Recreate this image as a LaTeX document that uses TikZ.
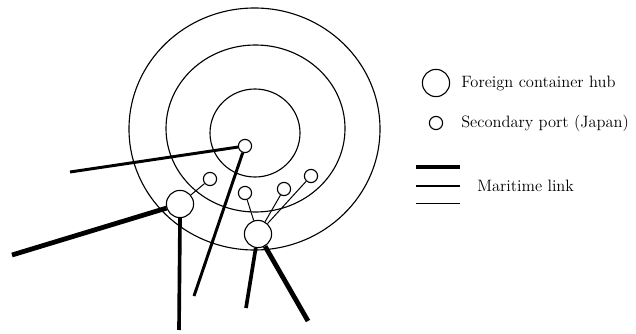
\documentclass[tikz,border=0pt]{standalone}
\usepackage{tikz}
\usetikzlibrary{positioning}

\tikzset{
    hub/.style={circle, draw, line width=0.8pt, inner sep=0pt, minimum size=0.68cm},
    port/.style={circle, draw, line width=0.8pt, inner sep=0pt, minimum size=0.33cm},
    ring/.style={line width=0.8pt},
    linkA/.style={line width=3.4pt},
    linkB/.style={line width=2.6pt},
    linkC/.style={line width=2.1pt},
    linkD/.style={line width=0.7pt},
    legtext/.style={anchor=west, inner sep=0pt, font=\fontsize{11.7}{14}\selectfont}
}

\begin{document}
\begin{tikzpicture}[x=0.025cm, y=-0.025cm]

    \useasboundingbox (0,0) rectangle (636,334);

    % Anells
    \draw[ring] (254.5,129) ellipse [x radius=125.5, y radius=121];
    \draw[ring] (255.5,128.5) ellipse [x radius=89.5, y radius=83.5];
    \draw[ring] (255,133) ellipse [x radius=45, y radius=44];

    % Ports
    \node[port, fill=white] (core) at (245,146) {};
    \node[port] (pa) at (210,179) {};
    \node[port] (pb) at (245,193) {};
    \node[port] (pc) at (284,189) {};
    \node[port] (pd) at (311,176) {};
    \node[hub, fill=white] (hw) at (180,204) {};
    \node[hub, fill=white] (he) at (258,234) {};

    % Extrems lliures
    \coordinate (ew) at (70,172);
    \coordinate (es) at (194,296);
    \coordinate (fw) at (12,255);
    \coordinate (fs) at (179,330);
    \coordinate (gs) at (246,308);
    \coordinate (ge) at (308,321);

    % Enllacos
    \draw[linkC] (core) -- (ew);
    \draw[linkC] (core) -- (es);
    \draw[linkA] (hw) -- (fw);
    \draw[linkB] (hw.south) -- (fs);
    \draw[linkD] (hw) -- (pa);
    \draw[linkD] (he) -- (pb);
    \draw[linkD] (he) -- (pc);
    \draw[linkD] (he) -- (pd);
    \draw[linkB] (he) -- (gs);
    \draw[linkA] (he) -- (ge);

    % Llegenda
    \node[hub] (lhub) at (436,83) {};
    \node[legtext] (thub) at (461,83) {Foreign container hub};
    \node[port] (lport) at (436,123) {};
    \node[legtext] (tport) at (461,123) {Secondary port (Japan)};

    \coordinate (l1a) at (416,167);
    \coordinate (l1b) at (460,167);
    \coordinate (l2a) at (416,186);
    \coordinate (l2b) at (460,186);
    \coordinate (l3a) at (416,203);
    \coordinate (l3b) at (460,203);
    \draw[linkA] (l1a) -- (l1b);
    \draw[linkC] (l2a) -- (l2b);
    \draw[linkD] (l3a) -- (l3b);
    \node[legtext] (tlink) at (477,186) {Maritime link};

\end{tikzpicture}
\end{document}
